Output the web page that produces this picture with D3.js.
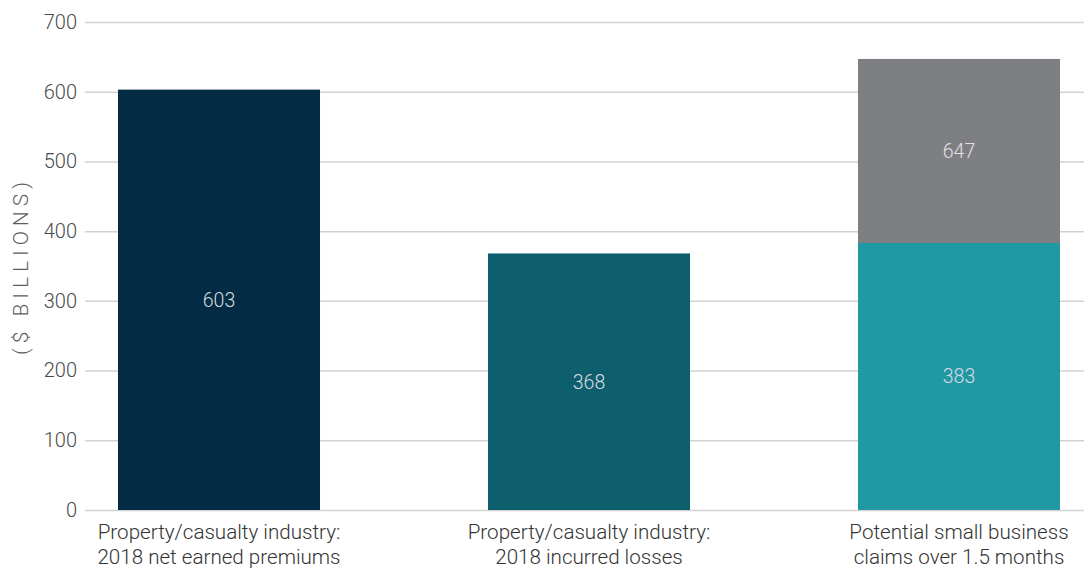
<!DOCTYPE html>
<html>
<head>
<meta charset="utf-8">
<script src="https://cdn.jsdelivr.net/npm/d3@7"></script>
<style>
  html, body { margin: 0; padding: 0; background: #fff; }
  svg { display: block; }
  text { font-family: Roboto, "Open Sans", sans-serif; }
</style>
</head>
<body>
<svg id="chart" width="1084" height="570"></svg>
<script>
// Category labels (two lines each)
const categories = ["premiums", "losses", "claims"];
const categoryLines = [
  ["Property/casualty industry:", "2018 net earned premiums"],
  ["Property/casualty industry:", "2018 incurred losses"],
  ["Potential small business", "claims over 1.5 months"]
];
// Stack segments: base value and additional value on top ($ billions)
const baseValues = [603, 368, 383];
const topValues = [0, 0, 264];
const totalLabels = [null, null, 647];
const yTicks = [0, 100, 200, 300, 400, 500, 600, 700];
const baseColors = ["#032b44", "#0d5f6e", "#2199a5"];
const topColor = "#7e7f83";

const svg = d3.select("#chart");
const W = 1084, H = 570;

const x = d3.scaleBand()
  .domain(categories)
  .range([34, 1144])
  .paddingInner(0.454)
  .paddingOuter(0.227);

const y = d3.scaleLinear()
  .domain([0, 700])
  .range([510, 22]);

// Gridlines and tick labels
const yAxis = d3.axisLeft(y)
  .tickValues(yTicks)
  .tickSize(-(W - 85))
  .tickPadding(8)
  .tickFormat(d3.format("d"));

const gy = svg.append("g")
  .attr("transform", "translate(85,0)")
  .call(yAxis);
gy.select(".domain").remove();
gy.selectAll(".tick line")
  .attr("stroke", "#d2d2d2")
  .attr("stroke-width", 1.5);
gy.selectAll(".tick text")
  .attr("x", -8)
  .attr("fill", "#4a4a4a")
  .style("font-size", "20px")
  .style("font-weight", "300")
  .style("font-family", "Roboto, sans-serif");

// Y axis title
svg.append("text")
  .attr("transform", "translate(28,266) rotate(-90)")
  .attr("text-anchor", "middle")
  .attr("fill", "#5e5e5e")
  .style("font-size", "21px")
  .style("font-weight", "300")
  .style("letter-spacing", "5px")
  .text("($ BILLIONS)");

// Bars
const bars = svg.append("g");
categories.forEach((c, i) => {
  const b = baseValues[i];
  const t = topValues[i];
  bars.append("rect")
    .attr("x", x(c))
    .attr("y", y(b))
    .attr("width", x.bandwidth())
    .attr("height", y(0) - y(b))
    .attr("fill", baseColors[i]);
  bars.append("text")
    .attr("x", x(c) + x.bandwidth() / 2)
    .attr("y", (y(0) + y(b)) / 2)
    .attr("dy", "0.35em")
    .attr("text-anchor", "middle")
    .attr("fill", "#d4dbe0")
    .style("font-size", "19.5px")
    .style("font-weight", "300")
    .text(b);
  if (t > 0) {
    bars.append("rect")
      .attr("x", x(c))
      .attr("y", y(b + t))
      .attr("width", x.bandwidth())
      .attr("height", y(b) - y(b + t))
      .attr("fill", topColor);
    bars.append("text")
      .attr("x", x(c) + x.bandwidth() / 2)
      .attr("y", (y(b) + y(b + t)) / 2)
      .attr("dy", "0.35em")
      .attr("text-anchor", "middle")
      .attr("fill", "#e2e2e4")
      .style("font-size", "19.5px")
      .style("font-weight", "300")
      .text(totalLabels[i]);
  }
});

// Category labels
const labels = svg.append("g");
categories.forEach((c, i) => {
  const t = labels.append("text")
    .attr("x", x(c) + x.bandwidth() / 2)
    .attr("y", 539)
    .attr("text-anchor", "middle")
    .attr("fill", "#333")
    .style("font-size", "20.6px")
    .style("font-weight", "300");
  categoryLines[i].forEach((line, k) => {
    t.append("tspan")
      .attr("x", x(c) + x.bandwidth() / 2)
      .attr("dy", k === 0 ? 0 : 25)
      .text(line);
  });
});
</script>
</body>
</html>
